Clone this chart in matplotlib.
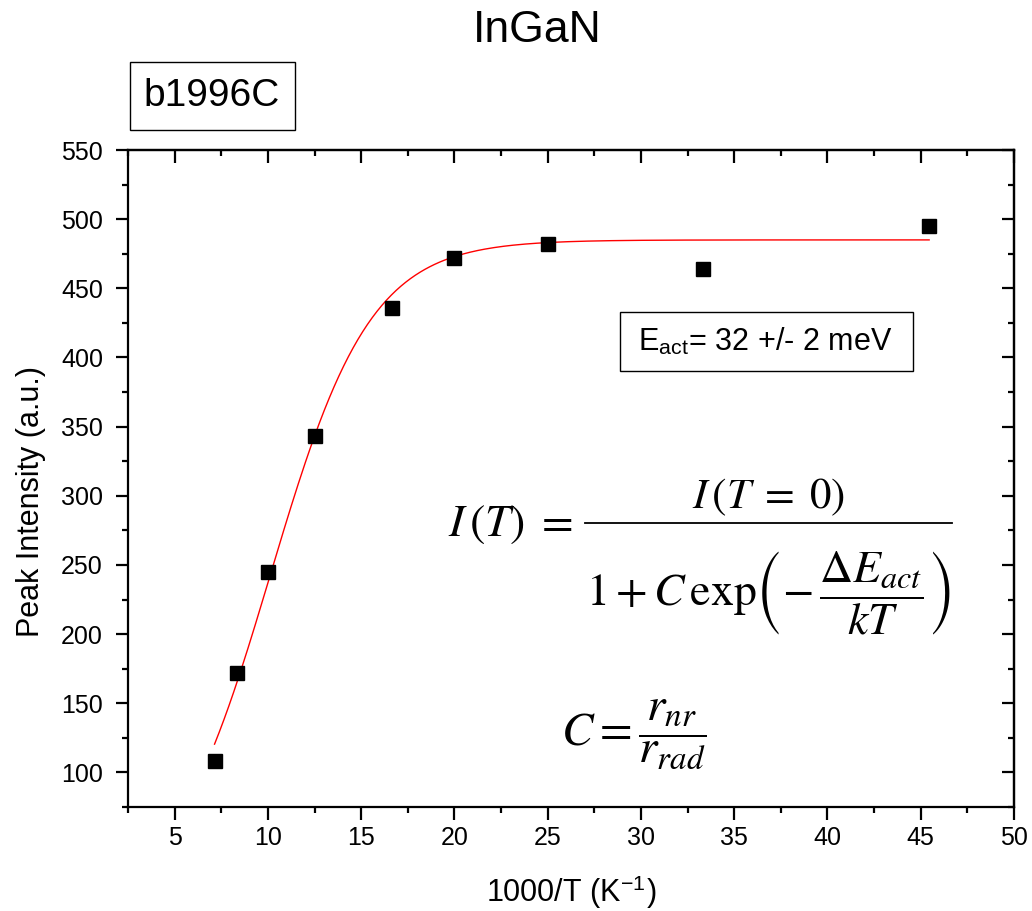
import numpy as np
import matplotlib.pyplot as plt
from matplotlib.ticker import MultipleLocator
from matplotlib.patches import Rectangle
from matplotlib.lines import Line2D

# ----Data------------
inv_temp = [7.14, 8.33, 10.0, 12.5, 16.67, 20.0, 25.0, 33.33, 45.45]  # 1000/T
peak_int = [108, 172, 245, 343, 436, 472, 482, 464, 495]

# fit parameters for I(T) = I0 / (1 + C exp(-Eact/kT))
i0_fit = 485.0
c_fit = 42.9
e_act = 0.032  # eV
k_b = 8.617e-5  # eV/K

plt.rcParams['font.family'] = ['Liberation Sans', 'DejaVu Sans']
plt.rcParams['mathtext.fontset'] = 'stix'

W, H = 1032, 911


def fx(px):
    # pixel column -> figure fraction
    return px / W


def fy(py):
    # pixel row (from top) -> figure fraction
    return 1 - py / H


fig = plt.figure(figsize=(W / 100, H / 100), dpi=100)
ax = fig.add_axes([fx(128), fy(807), 886 / W, 657 / H])

# fitted curve
x_fit = np.linspace(inv_temp[0], inv_temp[-1], 300)
y_fit = i0_fit / (1 + c_fit * np.exp(-e_act / k_b * x_fit / 1000))
ax.plot(x_fit, y_fit, color='red', lw=1.0, zorder=2)

# measured peak intensities
ax.plot(inv_temp, peak_int, 's', color='black', ms=9.5, zorder=3)

ax.set_xlim(2.5, 50)
ax.set_ylim(75, 550)
ax.xaxis.set_major_locator(MultipleLocator(5))
ax.xaxis.set_minor_locator(MultipleLocator(2.5))
ax.yaxis.set_major_locator(MultipleLocator(50))
ax.yaxis.set_minor_locator(MultipleLocator(25))
for s in ax.spines.values():
    s.set_linewidth(1.6)
ax.tick_params(which='both', direction='out', width=1.6, labelsize=18,
               top=False, right=False)
ax.tick_params(which='major', length=9)
ax.tick_params(which='minor', length=4)
ax.tick_params(axis='x', which='both', pad=5)
ax.tick_params(axis='y', which='both', pad=9)

# inward ticks on top and right
ax_top = ax.secondary_xaxis('top')
ax_top.xaxis.set_major_locator(MultipleLocator(5))
ax_top.xaxis.set_minor_locator(MultipleLocator(2.5))
ax_top.tick_params(which='both', direction='in', width=1.6, labeltop=False)
ax_top.tick_params(which='major', length=9)
ax_top.tick_params(which='minor', length=4)
ax_top.spines['top'].set_linewidth(1.6)
ax_right = ax.secondary_yaxis('right')
ax_right.yaxis.set_major_locator(MultipleLocator(50))
ax_right.yaxis.set_minor_locator(MultipleLocator(25))
ax_right.tick_params(which='both', direction='in', width=1.6, labelright=False)
ax_right.tick_params(which='major', length=9)
ax_right.tick_params(which='minor', length=4)
ax_right.spines['right'].set_linewidth(1.6)

ax.set_xlabel('1000/T (K$^{\\mathregular{-1}}$)', fontsize=22)
ax.set_ylabel('Peak Intensity (a.u.)', fontsize=22)
ax.xaxis.set_label_coords(0.5, (807 - 873) / 657)
ax.yaxis.set_label_coords((46 - 128) / 886, 0.465)

# title and sample label
fig.text(fx(537), fy(30), 'InGaN', fontsize=32, ha='center', va='center')
fig.add_artist(Rectangle((fx(130), fy(130)), fx(295) - fx(130),
                         fy(62) - fy(130), transform=fig.transFigure,
                         fc='white', ec='black', lw=1.0))
fig.text(fx(212), fy(96), 'b1996C', fontsize=28, ha='center', va='center')

# activation energy box
fig.add_artist(Rectangle((fx(620), fy(371)), fx(913) - fx(620),
                         fy(312) - fy(371), transform=fig.transFigure,
                         fc='white', ec='black', lw=1.0))
fig.text(fx(638), fy(351), 'E$_{\\mathregular{act}}$= 32 +/- 2 meV',
         fontsize=22, ha='left', va='baseline')

# model equation, built from left side, numerator, bar and denominator
fig.text(fx(510), fy(524), r'$I\,(T)\; =$', fontsize=33,
         ha='center', va='center')
fig.text(fx(768), fy(497), r'$I\,(T\; =\; 0)$', fontsize=31,
         ha='center', va='center')
fig.add_artist(Line2D([fx(585), fx(952)], [fy(523), fy(523)],
                      transform=fig.transFigure, color='black', lw=1.3))
fig.text(fx(768), fy(593),
         r'$1 + C\,\exp\!\left(-\,\dfrac{\Delta E_{act}}{kT}\right)$',
         fontsize=33, ha='center', va='center')
fig.text(fx(634), fy(734), r'$C = \dfrac{r_{nr}}{r_{rad}}$',
         fontsize=34, ha='center', va='center')

fig.savefig('out.png', dpi=100)
